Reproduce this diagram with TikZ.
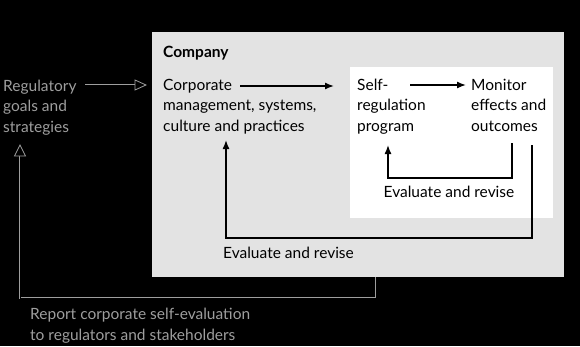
\documentclass[tikz,border=0pt]{standalone}
\usepackage{fontspec}
\setmainfont{Lato}
\usetikzlibrary{arrows.meta}
\definecolor{outg}{rgb}{0.62,0.62,0.62}
\definecolor{boxg}{rgb}{0.89,0.89,0.89}
\tikzset{
  txt/.style={anchor=base west, inner sep=0pt, align=left, font=\fontsize{15.5}{20.5}\selectfont},
  outtxt/.style={txt, text=outg},
  flow/.style={line width=1.4pt, -{Latex[length=9pt,width=7pt]}},
  outer/.style={draw=outg, line width=2.4pt},
  inner/.style={draw=black, line width=0.9pt},
}
\begin{document}
\begin{tikzpicture}[x=1pt,y=-1pt]
\fill[black] (0,0) rectangle (580,346);
\useasboundingbox (0,0) rectangle (580,346);
\fill[boxg] (152,32) rectangle (564,277);
\fill[white] (350,67) rectangle (553,218);

\node[txt, font=\fontsize{15.5}{20.5}\selectfont\bfseries] (company) at (163,57) {Company};
\node[txt] (corp) at (163,131) {Corporate\\management, systems,\\culture and practices};
\node[txt] (self) at (357,131) {Self-\\regulation\\program};
\node[txt] (mon) at (471,131) {Monitor\\effects and\\outcomes};
\node[txt, anchor=center] (ev1) at (449,192) {Evaluate and revise};
\node[txt, anchor=west] (ev2) at (223,253) {Evaluate and revise};
\node[outtxt] (reg) at (3,132) {Regulatory\\goals and\\strategies};
\node[outtxt] (rep) at (30,340) {Report corporate self-evaluation\\to regulators and stakeholders};

\coordinate (a1) at (240,86);
\coordinate (a2) at (334,86);
\coordinate (b1) at (410,85);
\coordinate (b2) at (466,85);
\coordinate (c1) at (512,143);
\coordinate (c2) at (512,178);
\coordinate (c3) at (388,178);
\coordinate (c4) at (388,145);
\coordinate (d1) at (532,145);
\coordinate (d2) at (532,238);
\coordinate (d3) at (226,238);
\coordinate (d4) at (226,140);
\coordinate (e1) at (376,277);
\coordinate (e2) at (376,298);
\coordinate (e3) at (20,298);
\coordinate (e4) at (20,156);
\coordinate (e5) at (20,145);
\coordinate (f1) at (85,85);
\coordinate (f2) at (135,85);
\coordinate (f3) at (146,85);

\draw[flow] (a1) -- (a2);
\draw[flow] (b1) -- (b2);
\draw[flow] (c1) -- (c2) -- (c3) -- (c4);
\draw[flow] (d1) -- (d2) -- (d3) -- (d4);

% outside connectors (outlined look)
\draw[outer] (e1) -- (e2) -- (e3) -- (e4);
\draw[inner] (e1) -- (e2) -- (e3) -- (e4);
\filldraw[draw=outg, fill=black, line width=0.8pt] (e5) -- (14.5,156) -- (25.5,156) -- cycle;
\draw[outer] (f1) -- (f2);
\draw[inner] (f1) -- (f2);
\filldraw[draw=outg, fill=black, line width=0.8pt] (f3) -- (135,80) -- (135,90) -- cycle;
\end{tikzpicture}
\end{document}
